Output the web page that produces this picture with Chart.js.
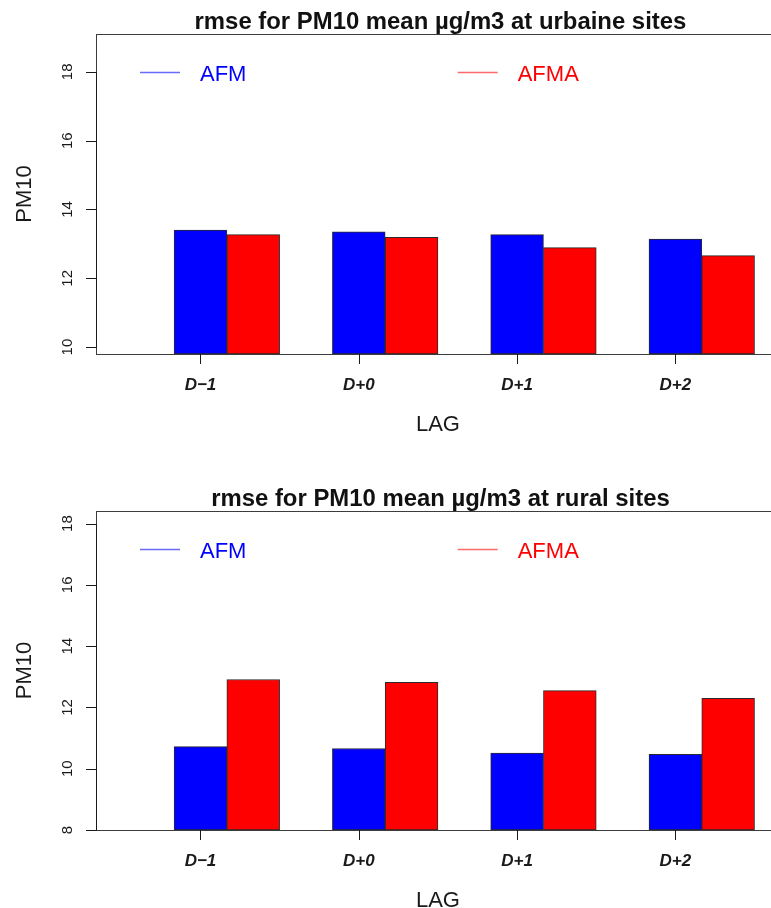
<!DOCTYPE html>
<html><head><meta charset="utf-8">
<script src="https://cdn.jsdelivr.net/npm/chart.js@4/dist/chart.umd.min.js"></script>
<style>
html,body{margin:0;padding:0;background:#fff;}
#wrap{position:relative;width:771px;height:908px;overflow:hidden;background:#fff;}
.pan{position:absolute;left:0;width:771px;height:454px;}
</style></head><body>
<div id="wrap">
<div class="pan" style="top:0"><canvas id="c1" width="771" height="454"></canvas></div>
<div class="pan" style="top:454px"><canvas id="c2" width="771" height="454"></canvas></div>
</div>
<script>
// ---- data ----
const categories = ['D\u22121', 'D+0', 'D+1', 'D+2'];
const seriesNames = ['AFM', 'AFMA'];
const urbanAFM  = [13.40, 13.35, 13.27, 13.14];
const urbanAFMA = [13.27, 13.19, 12.89, 12.66];
const ruralAFM  = [10.72, 10.66, 10.51, 10.47];
const ruralAFMA = [12.91, 12.82, 12.55, 12.30];
const spacer    = [null, null, null, null];
const urbanTicks = [10, 12, 14, 16, 18];
const ruralTicks = [8, 10, 12, 14, 16, 18];
const titles = ['rmse for PM10 mean \u00b5g/m3 at urbaine sites', 'rmse for PM10 mean \u00b5g/m3 at rural sites'];
const xTitle = 'LAG';
const yTitle = 'PM10';

const FONT = '"Liberation Sans", Arial, Helvetica, sans-serif';
const seriesColors = ['#0000ff', '#ff0000'];
const legendLineColors = ['#6a6aff', '#ff6a6a'];

const rPlot = {
  id: 'rPlot',
  afterDraw(chart, args, o) {
    const ctx = chart.ctx, a = chart.chartArea, xs = chart.scales.x, ys = chart.scales.y;
    ctx.save();
    // plot box
    ctx.strokeStyle = '#3c3c3c'; ctx.lineWidth = 1;
    ctx.strokeRect(Math.round(a.left) + 0.5, Math.round(a.top) + 0.5,
                   Math.round(a.right - a.left) + 10, Math.round(a.bottom - a.top));
    // y axis (R style)
    const yt = ys.ticks.map(t => t.value);
    const py = v => Math.round(ys.getPixelForValue(v)) + 0.5;
    const lx = Math.round(a.left) + 0.5;
    ctx.strokeStyle = '#1a1a1a';
    ctx.beginPath();
    ctx.moveTo(lx, py(yt[0])); ctx.lineTo(lx, py(yt[yt.length - 1]));
    yt.forEach(v => { ctx.moveTo(lx - 10.5, py(v)); ctx.lineTo(lx, py(v)); });
    ctx.stroke();
    ctx.fillStyle = '#1a1a1a';
    ctx.font = '15px ' + FONT; ctx.textAlign = 'center'; ctx.textBaseline = 'alphabetic';
    yt.forEach(v => {
      ctx.save(); ctx.translate(a.left - 24, ys.getPixelForValue(v)); ctx.rotate(-Math.PI / 2);
      ctx.fillText(String(v), 0, 0); ctx.restore();
    });
    // x axis ticks + labels
    ctx.beginPath();
    xs.ticks.forEach(t => {
      const x = Math.round(xs.getPixelForValue(t.value)) + 0.5;
      ctx.moveTo(x, a.bottom); ctx.lineTo(x, a.bottom + 10);
    });
    ctx.stroke();
    ctx.font = 'italic bold 17px ' + FONT;
    xs.ticks.forEach((t, i) => {
      ctx.fillText(categories[i], xs.getPixelForValue(t.value), a.bottom + 35.5);
    });
    // axis titles (centered on the middle of the category range)
    const cx = xs.getPixelForValue((1 + categories.length) / 2);
    ctx.font = '22px ' + FONT;
    ctx.fillText(xTitle, cx, a.bottom + 77);
    ctx.save(); ctx.translate(30.5, (a.top + a.bottom) / 2); ctx.rotate(-Math.PI / 2);
    ctx.fillText(yTitle, 0, 0); ctx.restore();
    // main title
    ctx.fillStyle = '#111';
    ctx.font = 'bold 23.9px ' + FONT;
    ctx.fillText(o.title, cx + 2.5, a.top - 5);
    // legend
    const offs = [44, 361.7];
    const ly = Math.round(a.top + 38) + 0.5;
    ctx.font = '22px ' + FONT; ctx.textAlign = 'left';
    seriesNames.forEach((n, i) => {
      const x0 = a.left + offs[i];
      ctx.strokeStyle = legendLineColors[i]; ctx.lineWidth = 1.3;
      ctx.beginPath(); ctx.moveTo(x0, ly); ctx.lineTo(x0 + 40, ly); ctx.stroke();
      ctx.fillStyle = seriesColors[i];
      ctx.fillText(n, x0 + 60, ly + 8);
    });
    ctx.restore();
  }
};

function makePanel(id, title, afm, afma, ticks, yMin, yMax, padTop, padBottom) {
  const toPts = arr => categories.map((c, i) => ({ x: i + 1, y: arr[i] }));
  const ds = (label, arr, color) => ({
    label, data: toPts(arr), backgroundColor: color, borderColor: '#2a2a2a',
    borderWidth: 1, borderSkipped: false, base: yMin,
    categoryPercentage: 1, barPercentage: 1
  });
  return new Chart(document.getElementById(id), {
    type: 'bar',
    data: {
      datasets: [
        ds('', spacer, 'rgba(0,0,0,0)'),
        ds(seriesNames[0], afm, seriesColors[0]),
        ds(seriesNames[1], afma, seriesColors[1])
      ]
    },
    options: {
      responsive: false, animation: false, devicePixelRatio: 1,
      layout: { padding: { left: 96, right: 0, top: padTop, bottom: padBottom } },
      scales: {
        x: {
          type: 'linear', min: 0.34, max: 4.604, offset: false, display: false,
          afterBuildTicks: s => { s.ticks = categories.map((c, i) => ({ value: i + 1 })); }
        },
        y: {
          type: 'linear', min: yMin, max: yMax, display: false,
          afterBuildTicks: s => { s.ticks = ticks.map(v => ({ value: v })); }
        }
      },
      plugins: { legend: { display: false }, tooltip: { enabled: false }, rPlot: { title } }
    },
    plugins: [rPlot]
  });
}

makePanel('c1', titles[0], urbanAFM, urbanAFMA, urbanTicks, 9.80, 19.10, 34, 100);
makePanel('c2', titles[1], ruralAFM, ruralAFMA, ruralTicks, 8.0, 18.41, 57, 78);
</script>
</body></html>
